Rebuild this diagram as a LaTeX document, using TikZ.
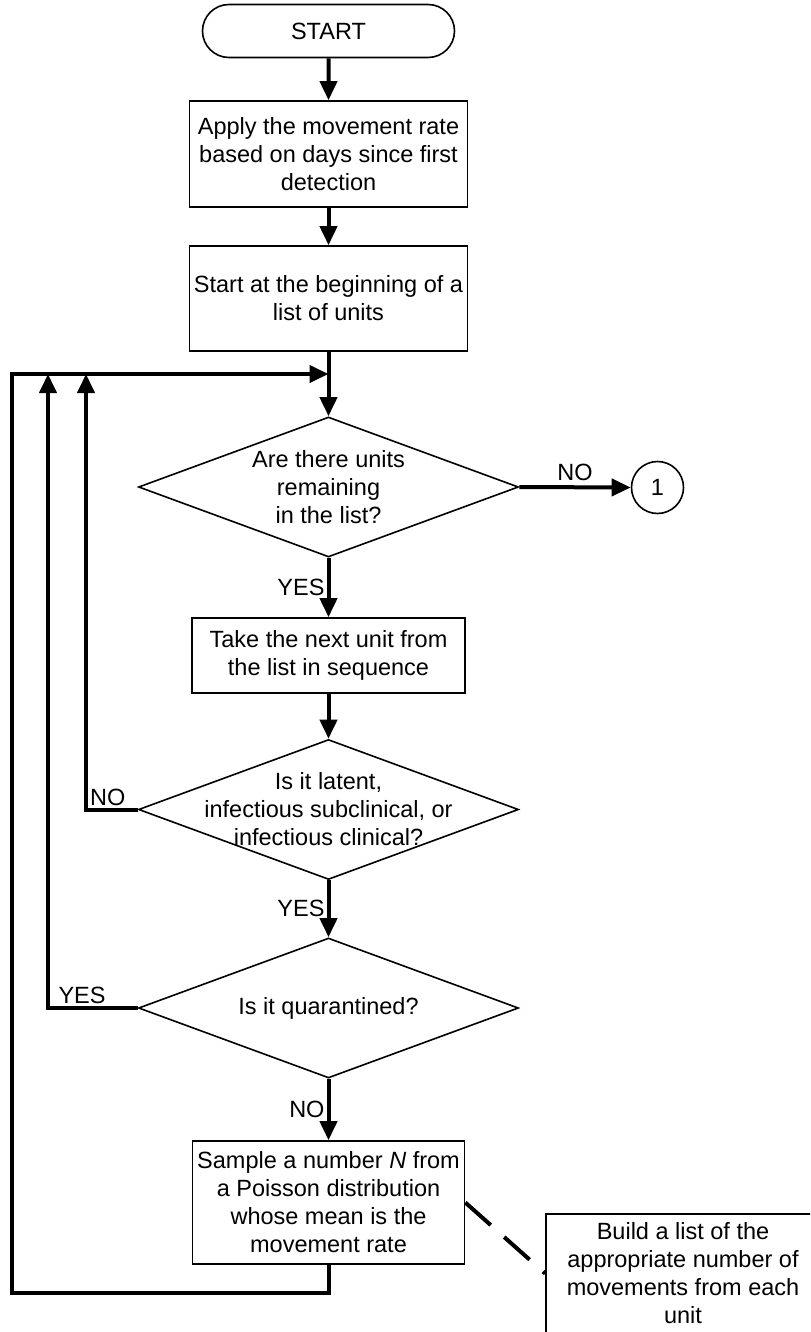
\documentclass[tikz,border=0pt]{standalone}
\usepackage{fontspec}
\setmainfont{Liberation Sans}
\usetikzlibrary{shapes.geometric,shapes.misc,arrows.meta}

\begin{document}
\begin{tikzpicture}[x=0.5pt,y=-0.5pt,
    every node/.style={font=\fontsize{11.75pt}{14pt}\selectfont},
    procbox/.style={draw,line width=0.8pt,inner sep=0pt,align=center},
    decision/.style={draw,line width=0.8pt,diamond,inner sep=0pt,minimum width=190pt,minimum height=70pt},
    terminal/.style={draw,line width=0.8pt,rounded rectangle,inner sep=0pt,minimum width=126pt,minimum height=26.5pt},
    conn/.style={draw,line width=0.8pt,circle,inner sep=0pt,minimum size=26pt},
    flow/.style={line width=2pt,-{Triangle[width=8.5pt,length=9.5pt]}},
    link/.style={line width=2pt},
    lbl/.style={inner sep=1pt}]
      \useasboundingbox (0,0) rectangle (810,1332);
      \clip (0,0) rectangle (810,1332);
      \node[terminal] (start) at (328.5,31) {START};
      \node[procbox,minimum width=139pt,minimum height=53pt] (rate) at (328.5,154) {Apply the movement rate\\based on days since first\\detection};
      \node[procbox,minimum width=139pt,minimum height=52.5pt] (begin) at (328.5,298.5) {Start at the beginning of a\\list of units};
      \node[decision,label={[align=center]center:Are there units\\remaining\\in the list?}] (remain) at (328.5,487) {};
      \node[conn] (one) at (657.5,487.5) {1};
      \node[procbox,minimum width=136.5pt,minimum height=37.5pt] (next) at (328.5,655.5) {Take the next unit from\\the list in sequence};
      \node[decision,label={[align=center]center:Is it latent,\\infectious subclinical, or\\infectious clinical?}] (infect) at (328.5,809.5) {};
      \node[decision,label={center:Is it quarantined?}] (quar) at (328.5,1008) {};
      \node[procbox,minimum width=136pt,minimum height=61.5pt] (sample) at (328.5,1202.5) {Sample a number \textit{N} from\\a Poisson distribution\\whose mean is the\\movement rate};
      \node[procbox,minimum width=137pt,minimum height=59.5pt] (build) at (683,1273.5) {Build a list of the\\appropriate number of\\movements from each\\unit};
      \coordinate (merge) at (328.5,374);
      \coordinate (backno) at (86,374);
      \coordinate (backyes) at (48,374);
      \coordinate (corner) at (12,1293);
      \draw[flow](start)--(rate);
      \draw[flow](rate)--(begin);
      \draw[flow](begin.south)--(remain.north);
      \draw[flow](remain.east)--node[above=1.5pt,lbl]{NO}(one.west);
      \draw[flow](remain.south)--node[left,lbl]{YES}(next.north);
      \draw[flow](next.south)--(infect.north);
      \draw[flow](infect.west)-|node[pos=0.29,above,lbl]{NO}(backno);
      \draw[flow](infect.south)--node[left,lbl]{YES}(quar.north);
      \draw[flow](quar.west)-|node[pos=0.31,above,lbl]{YES}(backyes);
      \draw[flow](quar.south)--node[left,lbl]{NO}(sample.north);
      \draw[flow](sample.south)|-(corner)|-(merge);
      \draw[link,dash pattern=on 17pt off 9pt](sample.east)--(build.west);
\end{tikzpicture}
\end{document}
